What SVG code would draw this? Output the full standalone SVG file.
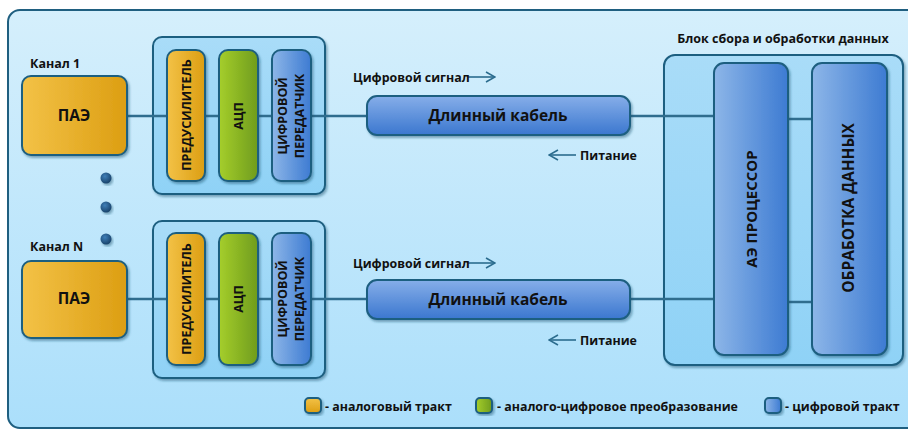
<svg xmlns="http://www.w3.org/2000/svg" width="908" height="429" viewBox="0 0 908 429">
<defs>
<linearGradient id="gPanel" x1="0" y1="0" x2="0" y2="1"><stop offset="0" stop-color="#d5effc"/><stop offset="1" stop-color="#abdffb"/></linearGradient>
<linearGradient id="gGroup" x1="0" y1="0" x2="0" y2="1"><stop offset="0" stop-color="#a9dcf8"/><stop offset="1" stop-color="#8fd2f6"/></linearGradient>
<linearGradient id="gOrange" x1="0" y1="0" x2="1" y2="0"><stop offset="0" stop-color="#f3c247"/><stop offset="1" stop-color="#dc9e12"/></linearGradient>
<linearGradient id="gOrangeV" x1="0" y1="0" x2="0" y2="1"><stop offset="0" stop-color="#f3c247"/><stop offset="1" stop-color="#dc9e12"/></linearGradient>
<linearGradient id="gGreen" x1="0" y1="0" x2="1" y2="0"><stop offset="0" stop-color="#a5ce2b"/><stop offset="1" stop-color="#6f9c1d"/></linearGradient>
<linearGradient id="gBlue" x1="0" y1="0" x2="1" y2="0"><stop offset="0" stop-color="#8db6e8"/><stop offset="1" stop-color="#3d7bd2"/></linearGradient>
<linearGradient id="gCable" x1="0" y1="0" x2="0" y2="1"><stop offset="0" stop-color="#86aee9"/><stop offset="1" stop-color="#3b77cf"/></linearGradient>
<radialGradient id="gDot" cx="0.4" cy="0.35" r="0.7"><stop offset="0" stop-color="#3f7fb8"/><stop offset="1" stop-color="#173f66"/></radialGradient>
<filter id="sh" x="-10%" y="-10%" width="130%" height="130%"><feDropShadow dx="1.5" dy="2" stdDeviation="1.2" flood-color="#1b4f6b" flood-opacity="0.45"/></filter>
<marker id="chev" viewBox="0 0 12 12" refX="11" refY="6" markerWidth="12" markerHeight="12" markerUnits="userSpaceOnUse" orient="auto"><path d="M2,1 L11,6 L2,11" fill="none" stroke="#2b6c8e" stroke-width="1.6"/></marker>
</defs>
<style>
.box{stroke:#1f5f80;stroke-width:2}
.t{font-family:"Open Sans","Noto Sans","DejaVu Sans",sans-serif;font-weight:bold;fill:#111}
.conn{stroke:#2f6d8e;stroke-width:2.5;fill:none}
.arr{stroke:#2b6c8e;stroke-width:1.6;fill:none}
</style>
<rect id="panel" x="8" y="10" width="920" height="418" rx="12" fill="url(#gPanel)" class="box"/>

<g id="block" >
<text class="t" x="783" y="43" font-size="12.5" text-anchor="middle">Блок сбора и обработки данных</text>
<rect x="664" y="55" width="239" height="310" rx="11" fill="url(#gGroup)" class="box" filter="url(#sh)"/>
</g>
<g id="group1"><rect x="153" y="37" width="172" height="157" rx="9" fill="url(#gGroup)" class="box" filter="url(#sh)"/></g>
<g id="groupN"><rect x="153" y="221" width="172" height="157" rx="9" fill="url(#gGroup)" class="box" filter="url(#sh)"/></g>

<g id="connectors">
<line class="conn" x1="127" y1="116" x2="714" y2="116"/>
<line class="conn" x1="788" y1="119" x2="812" y2="119"/>
<line class="conn" x1="127" y1="299" x2="714" y2="299"/>
<line class="conn" x1="788" y1="302" x2="812" y2="302"/>
<line class="arr" x1="468" y1="77" x2="495" y2="77" marker-end="url(#chev)"/>
<line class="arr" x1="576" y1="155" x2="549" y2="155" marker-end="url(#chev)"/>
<line class="arr" x1="468" y1="263" x2="495" y2="263" marker-end="url(#chev)"/>
<line class="arr" x1="576" y1="340" x2="549" y2="340" marker-end="url(#chev)"/>
</g>

<g id="ch1">
<text class="t" x="30" y="68" font-size="12.5">Канал 1</text>
<g id="pae1"><rect x="22" y="76" width="105" height="79" rx="9" fill="url(#gOrange)" class="box" filter="url(#sh)"/><text class="t" x="74" y="121" font-size="15.5" text-anchor="middle">ПАЭ</text></g>
</g>
<g id="pre1"><rect x="167" y="50" width="38" height="131" rx="9" fill="url(#gOrange)" class="box" filter="url(#sh)"/><text class="t" transform="translate(191,115) rotate(-90)" font-size="12.5" text-anchor="middle">ПРЕДУСИЛИТЕЛЬ</text></g>
<g id="adc1"><rect x="219" y="50" width="39" height="131" rx="9" fill="url(#gGreen)" class="box" filter="url(#sh)"/><text class="t" transform="translate(243,116) rotate(-90)" font-size="12.5" text-anchor="middle">АЦП</text></g>
<g id="tx1"><rect x="272" y="50" width="39" height="131" rx="9" fill="url(#gBlue)" class="box" filter="url(#sh)"/><text class="t" transform="translate(287,116) rotate(-90)" font-size="12.5" text-anchor="middle">ЦИФРОВОЙ</text><text class="t" transform="translate(304,116) rotate(-90)" font-size="12.5" text-anchor="middle">ПЕРЕДАТЧИК</text></g>

<g id="chN">
<text class="t" x="30" y="251" font-size="12.5">Канал N</text>
<g id="paeN"><rect x="22" y="261" width="105" height="77" rx="9" fill="url(#gOrange)" class="box" filter="url(#sh)"/><text class="t" x="74" y="304" font-size="15.5" text-anchor="middle">ПАЭ</text></g>
</g>
<g id="preN"><rect x="167" y="233" width="38" height="132" rx="9" fill="url(#gOrange)" class="box" filter="url(#sh)"/><text class="t" transform="translate(191,299) rotate(-90)" font-size="12.5" text-anchor="middle">ПРЕДУСИЛИТЕЛЬ</text></g>
<g id="adcN"><rect x="219" y="233" width="39" height="132" rx="9" fill="url(#gGreen)" class="box" filter="url(#sh)"/><text class="t" transform="translate(243,299) rotate(-90)" font-size="12.5" text-anchor="middle">АЦП</text></g>
<g id="txN"><rect x="272" y="233" width="39" height="132" rx="9" fill="url(#gBlue)" class="box" filter="url(#sh)"/><text class="t" transform="translate(287,299) rotate(-90)" font-size="12.5" text-anchor="middle">ЦИФРОВОЙ</text><text class="t" transform="translate(304,299) rotate(-90)" font-size="12.5" text-anchor="middle">ПЕРЕДАТЧИК</text></g>

<g id="dots">
<circle cx="106" cy="178" r="5.5" fill="url(#gDot)" filter="url(#sh)"/>
<circle cx="106" cy="207" r="5.5" fill="url(#gDot)" filter="url(#sh)"/>
<circle cx="106" cy="239" r="5.5" fill="url(#gDot)" filter="url(#sh)"/>
</g>

<g id="cable1"><rect x="367" y="96" width="263" height="39" rx="10" fill="url(#gCable)" class="box" filter="url(#sh)"/><text class="t" x="498" y="121" font-size="15.5" text-anchor="middle">Длинный кабель</text></g>
<g id="cableN"><rect x="367" y="280" width="263" height="39" rx="10" fill="url(#gCable)" class="box" filter="url(#sh)"/><text class="t" x="498" y="305" font-size="15.5" text-anchor="middle">Длинный кабель</text></g>
<text class="t" x="353" y="82" font-size="12.4">Цифровой сигнал</text>
<text class="t" x="580" y="160" font-size="12.4">Питание</text>
<text class="t" x="353" y="268" font-size="12.4">Цифровой сигнал</text>
<text class="t" x="580" y="345" font-size="12.4">Питание</text>

<g id="proc"><rect x="714" y="63" width="74" height="292" rx="10" fill="url(#gBlue)" class="box" filter="url(#sh)"/><text class="t" transform="translate(757,209) rotate(-90)" font-size="15" text-anchor="middle">АЭ ПРОЦЕССОР</text></g>
<g id="proc2"><rect x="812" y="63" width="75" height="292" rx="10" fill="url(#gBlue)" class="box" filter="url(#sh)"/><text class="t" transform="translate(854,208) rotate(-90)" font-size="15.5" text-anchor="middle">ОБРАБОТКА ДАННЫХ</text></g>

<g id="legend">
<rect x="305" y="398" width="16" height="15" rx="4" fill="url(#gOrangeV)" class="box" filter="url(#sh)"/>
<text class="t" x="325" y="411" font-size="12.4">- аналоговый тракт</text>
<rect x="476" y="398" width="16" height="15" rx="4" fill="url(#gGreen)" class="box" filter="url(#sh)"/>
<text class="t" x="497" y="411" font-size="12.4">- аналого-цифровое преобразование</text>
<rect x="765" y="398" width="16" height="15" rx="4" fill="url(#gBlue)" class="box" filter="url(#sh)"/>
<text class="t" x="785" y="411" font-size="12.4">- цифровой тракт</text>
</g>
</svg>
